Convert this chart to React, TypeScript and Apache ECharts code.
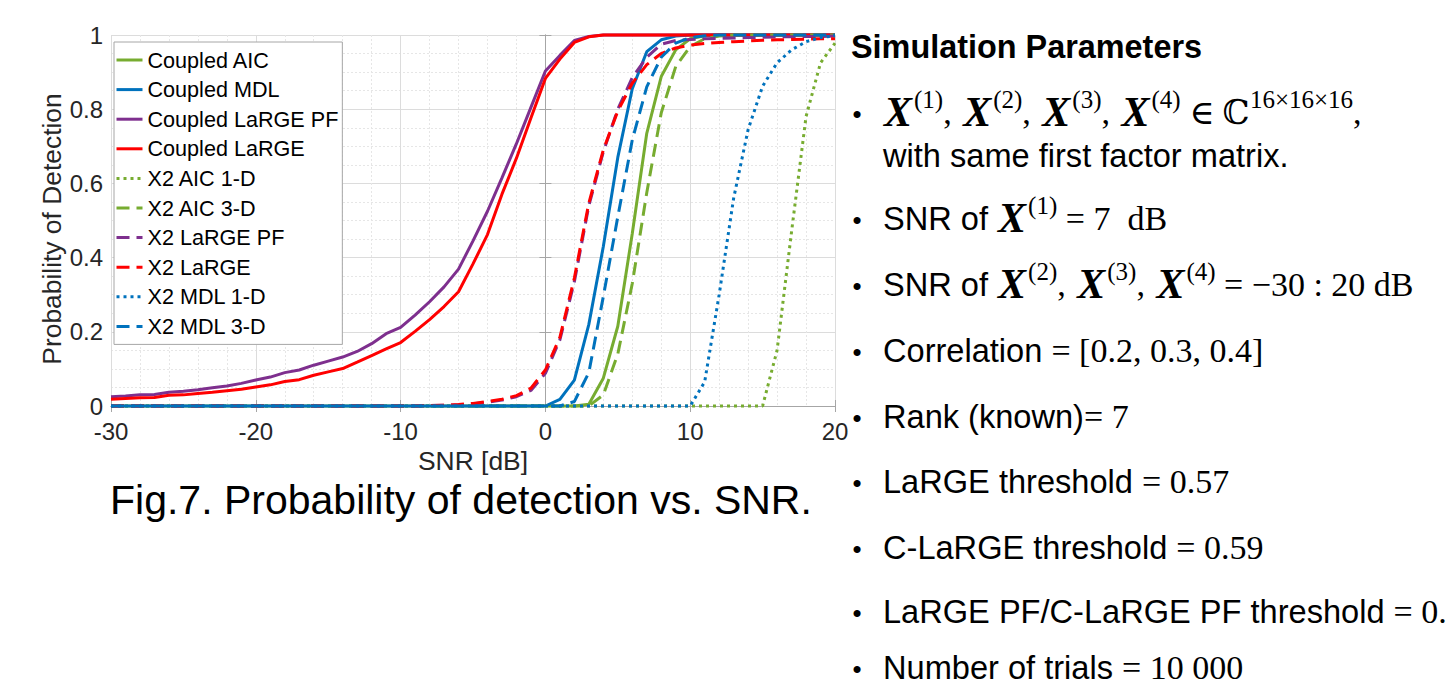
import React, { useEffect, useRef } from "react";
import * as echarts from "echarts";

const snr = [
  -30, -29, -28, -27, -26, -25, -24, -23, -22, -21, -20, -19, -18, -17, -16, -15, -14, -13, -12, -11,
  -10, -9, -8, -7, -6, -5, -4, -3, -2, -1, 0, 1, 2, 3, 4, 5, 6, 7, 8, 9, 10, 11, 12, 13, 14, 15, 16,
  17, 18, 19, 20,
];

const coupledAIC = [
  0, 0, 0, 0, 0, 0, 0, 0, 0, 0, 0, 0, 0, 0, 0, 0, 0, 0, 0, 0, 0, 0, 0, 0, 0, 0, 0, 0, 0, 0, 0, 0, 0,
  0.005, 0.075, 0.215, 0.465, 0.735, 0.888, 0.96, 0.99, 0.998, 1, 1, 1, 1, 1, 1, 1, 1, 1,
];
const coupledMDL = [
  0, 0, 0, 0, 0, 0, 0, 0, 0, 0, 0, 0, 0, 0, 0, 0, 0, 0, 0, 0, 0, 0, 0, 0, 0, 0, 0, 0, 0, 0, 0,
  0.018, 0.07, 0.22, 0.43, 0.67, 0.855, 0.955, 0.987, 0.997, 1, 1, 1, 1, 1, 1, 1, 1, 1, 1, 1,
];
const coupledLaRGEPF = [
  0.025, 0.027, 0.03, 0.031, 0.037, 0.04, 0.044, 0.049, 0.054, 0.061, 0.07, 0.078, 0.09, 0.097, 0.11,
  0.121, 0.132, 0.147, 0.168, 0.195, 0.212, 0.245, 0.281, 0.321, 0.369, 0.445, 0.525, 0.615, 0.707,
  0.805, 0.903, 0.945, 0.985, 0.996, 1, 1, 1, 1, 1, 1, 1, 1, 1, 1, 1, 1, 1, 1, 1, 1, 1,
];
const coupledLaRGE = [
  0.018, 0.02, 0.022, 0.023, 0.029, 0.03, 0.034, 0.037, 0.041, 0.045, 0.051, 0.057, 0.066, 0.071,
  0.083, 0.092, 0.101, 0.118, 0.136, 0.154, 0.171, 0.201, 0.233, 0.268, 0.308, 0.383, 0.462, 0.571,
  0.668, 0.776, 0.883, 0.935, 0.98, 0.995, 1, 1, 1, 1, 1, 1, 1, 1, 1, 1, 1, 1, 1, 1, 1, 1, 1,
];
const x2AIC1D = [
  0, 0, 0, 0, 0, 0, 0, 0, 0, 0, 0, 0, 0, 0, 0, 0, 0, 0, 0, 0, 0, 0, 0, 0, 0, 0, 0, 0, 0, 0, 0, 0, 0,
  0, 0, 0, 0, 0, 0, 0, 0, 0, 0, 0, 0, 0, 0.15, 0.47, 0.78, 0.925, 0.978,
];
const x2AIC3D = [
  0, 0, 0, 0, 0, 0, 0, 0, 0, 0, 0, 0, 0, 0, 0, 0, 0, 0, 0, 0, 0, 0, 0, 0, 0, 0, 0, 0, 0, 0, 0, 0, 0,
  0, 0.03, 0.14, 0.33, 0.575, 0.79, 0.915, 0.969, 0.99, 0.997, 1, 1, 1, 1, 1, 1, 1, 1,
];
const x2LaRGEPF = [
  0, 0, 0, 0, 0, 0, 0, 0, 0, 0, 0, 0, 0, 0, 0, 0, 0, 0, 0, 0, 0, 0, 0.001, 0.002, 0.003, 0.006, 0.01,
  0.016, 0.025, 0.042, 0.088, 0.178, 0.335, 0.54, 0.685, 0.8, 0.885, 0.94, 0.975, 0.985, 0.988, 0.99,
  0.991, 0.992, 0.993, 0.994, 0.995, 0.995, 0.996, 0.996, 0.997,
];
const x2LaRGE = [
  0, 0, 0, 0, 0, 0, 0, 0, 0, 0, 0, 0, 0, 0, 0, 0, 0, 0, 0, 0, 0, 0, 0.001, 0.002, 0.004, 0.007, 0.012,
  0.018, 0.028, 0.048, 0.097, 0.185, 0.345, 0.547, 0.69, 0.795, 0.87, 0.92, 0.95, 0.965, 0.973, 0.977,
  0.98, 0.982, 0.984, 0.986, 0.987, 0.988, 0.989, 0.99, 0.99,
];
const x2MDL1D = [
  0, 0, 0, 0, 0, 0, 0, 0, 0, 0, 0, 0, 0, 0, 0, 0, 0, 0, 0, 0, 0, 0, 0, 0, 0, 0, 0, 0, 0, 0, 0, 0, 0,
  0, 0, 0, 0, 0, 0, 0, 0, 0.065, 0.3, 0.56, 0.745, 0.862, 0.925, 0.96, 0.982, 0.993, 0.998,
];
const x2MDL3D = [
  0, 0, 0, 0, 0, 0, 0, 0, 0, 0, 0, 0, 0, 0, 0, 0, 0, 0, 0, 0, 0, 0, 0, 0, 0, 0, 0, 0, 0, 0, 0, 0,
  0.012, 0.09, 0.295, 0.51, 0.717, 0.86, 0.94, 0.978, 0.993, 0.998, 1, 1, 1, 1, 1, 1, 1, 1, 1,
];

const seriesNames = [
  "Coupled AIC",
  "Coupled MDL",
  "Coupled LaRGE PF",
  "Coupled LaRGE",
  "X2 AIC 1-D",
  "X2 AIC 3-D",
  "X2 LaRGE PF",
  "X2 LaRGE",
  "X2 MDL 1-D",
  "X2 MDL 3-D",
];
const seriesValues = [
  coupledAIC, coupledMDL, coupledLaRGEPF, coupledLaRGE, x2AIC1D, x2AIC3D, x2LaRGEPF, x2LaRGE, x2MDL1D, x2MDL3D,
];
const seriesColors = [
  "#77AC30", "#0072BD", "#7E2F8E", "#FF0000", "#77AC30", "#77AC30", "#7E2F8E", "#FF0000", "#0072BD", "#0072BD",
];
const seriesDash = ["solid", "solid", "solid", "solid", "dot", "dash", "dash", "dash", "dot", "dash"];

const xLabel = "SNR [dB]";
const yLabel = "Probability of Detection";
const caption = "Fig.7. Probability of detection vs. SNR.";
const panelTitle = "Simulation Parameters";
const panelLines = [
  "{X|X}{s|(1)}{c|, }{X|X}{s|(2)}{c|, }{X|X}{s|(3)}{c|, }{X|X}{s|(4)}{m| ∈ ℂ}{s|16×16×16}{c|,}",
  "{T|with same first factor matrix.}",
  "{t|SNR of }{X|X}{s|(1)}{m| = 7  dB}",
  "{t|SNR of }{X|X}{s|(2)}{c|, }{X|X}{s|(3)}{c|, }{X|X}{s|(4)}{m| = −30 : 20 dB}",
  "{T|Correlation }{M|= [0.2, 0.3, 0.4]}",
  "{T|Rank (known)}{M|= 7}",
  "{T|LaRGE threshold }{M|= 0.57}",
  "{T|C-LaRGE threshold }{M|= 0.59}",
  "{T|LaRGE PF/C-LaRGE PF threshold }{M|= 0.}",
  "{B|Number of trials }{N|= 10 000}",
];
const panelLineY = [112, 155, 218, 284, 350, 416, 481, 547, 611, 667];
const bulletLines = [0, 2, 3, 4, 5, 6, 7, 8, 9];

const SANS = '"Liberation Sans", Arial, Helvetica, sans-serif';
const SERIF = '"Liberation Serif", "DejaVu Serif", serif';

export default function App() {
  const ref = useRef<HTMLDivElement>(null);
  useEffect(() => {
    if (!ref.current) return;
    const chart = echarts.init(ref.current, null, { renderer: "svg" });
    const dashFor = (d: string) => (d === "dot" ? [3, 4] : d === "dash" ? [13, 7] : "solid");
    const series = seriesNames.map((name, k) => ({
      name,
      type: "line",
      data: snr.map((x, i) => [x, seriesValues[k][i]]),
      symbol: "none",
      showSymbol: false,
      clip: false,
      xAxisIndex: 0,
      yAxisIndex: 0,
      lineStyle: { color: seriesColors[k], width: 3, type: dashFor(seriesDash[k]) },
      itemStyle: { color: seriesColors[k] },
      emphasis: { disabled: true },
    }));

    const rich = {
      t: { fontFamily: SANS, fontSize: 32.6, fill: "#000", lineHeight: 50 },
      m: { fontFamily: SERIF, fontSize: 34, fill: "#000", lineHeight: 50 },
      c: { fontFamily: SERIF, fontSize: 34, fill: "#000", lineHeight: 50, padding: [0, 2, 0, 0] },
      X: {
        fontFamily: SERIF,
        fontSize: 42,
        fontStyle: "italic",
        fontWeight: "bold",
        fill: "#000",
        lineHeight: 50,
        padding: [0, 2, 0, 1],
      },
      s: { fontFamily: SERIF, fontSize: 25, fill: "#000", lineHeight: 26, verticalAlign: "top" },
      T: { fontFamily: SANS, fontSize: 32.6, fill: "#000", lineHeight: 34 },
      M: { fontFamily: SERIF, fontSize: 34, fill: "#000", lineHeight: 34 },
      B: { fontFamily: SANS, fontSize: 32.6, fill: "#000", lineHeight: 28 },
      N: { fontFamily: SERIF, fontSize: 34, fill: "#000", lineHeight: 28 },
    };

    const graphics: any[] = [
      {
        type: "text",
        x: 110,
        y: 500,
        style: { text: caption, fontFamily: SANS, fontSize: 41, fill: "#000", verticalAlign: "middle" },
      },
      {
        type: "text",
        x: 851,
        y: 47,
        style: {
          text: panelTitle,
          fontFamily: SANS,
          fontSize: 32.4,
          fontWeight: "bold",
          fill: "#000",
          verticalAlign: "middle",
        },
      },
    ];
    bulletLines.forEach((li) => {
      graphics.push({
        type: "text",
        x: 857,
        y: panelLineY[li] + 2,
        style: { text: "•", fontFamily: SANS, fontSize: 26, fill: "#000", align: "center", verticalAlign: "middle" },
      });
    });
    panelLines.forEach((txt, i) => {
      graphics.push({
        type: "text",
        x: 883,
        y: panelLineY[i],
        style: { text: txt, rich, verticalAlign: "middle", fill: "#000" },
      });
    });

    const axisColor = "#a6a6a6";
    const labelColor = "#262626";
    chart.setOption({
      animation: false,
      backgroundColor: "#fff",
      grid: { left: 111, right: 621, top: 35, bottom: 282, containLabel: false },
      legend: {
        orient: "vertical",
        left: 114,
        top: 42,
        padding: [7, 4, 7, 1],
        itemWidth: 26,
        itemHeight: 22,
        itemGap: 7.6,
        backgroundColor: "#fff",
        borderColor: axisColor,
        borderWidth: 1,
        selectedMode: false,
        itemStyle: { opacity: 0, borderWidth: 0 },
        lineStyle: { width: 3 },
        textStyle: { fontSize: 21.6, fontFamily: SANS, color: "#000", lineHeight: 22 },
        data: seriesNames,
      },
      xAxis: [
        {
          type: "value",
          min: -30,
          max: 20,
          interval: 10,
          position: "bottom",
          name: xLabel,
          nameLocation: "middle",
          nameGap: 42,
          nameTextStyle: { fontSize: 26.4, fontFamily: SANS, color: labelColor },
          axisLine: { show: true, lineStyle: { color: axisColor, width: 1 } },
          axisTick: { show: true, inside: true, length: 6, lineStyle: { color: axisColor } },
          axisLabel: { fontSize: 24, fontFamily: SANS, color: labelColor, margin: 14, lineHeight: 22 },
          splitLine: { show: true, lineStyle: { color: "#dcdcdc", width: 1 } },
          minorTick: { show: false, splitNumber: 5 },
          minorSplitLine: { show: true, lineStyle: { color: "#e6e6e6", width: 1, type: [2, 2] } },
        },
        {
          type: "value",
          min: -30,
          max: 20,
          interval: 10,
          position: "top",
          axisLine: { show: true, lineStyle: { color: axisColor, width: 1 } },
          axisTick: { show: true, inside: true, length: 6, lineStyle: { color: axisColor } },
          axisLabel: { show: false },
          splitLine: { show: false },
        },
      ],
      yAxis: [
        {
          type: "value",
          min: 0,
          max: 1,
          interval: 0.2,
          position: "left",
          name: yLabel,
          nameLocation: "middle",
          nameGap: 46,
          nameRotate: 90,
          nameTextStyle: { fontSize: 26.4, fontFamily: SANS, color: labelColor, padding: [0, 17, 0, 0] },
          axisLine: { show: true, lineStyle: { color: axisColor, width: 1 } },
          axisTick: { show: true, inside: true, length: 6, lineStyle: { color: axisColor } },
          axisLabel: { fontSize: 24, fontFamily: SANS, color: labelColor, margin: 8, lineHeight: 20 },
          splitLine: { show: true, lineStyle: { color: "#dcdcdc", width: 1 } },
          minorTick: { show: false, splitNumber: 4 },
          minorSplitLine: { show: true, lineStyle: { color: "#e6e6e6", width: 1, type: [2, 2] } },
        },
        {
          type: "value",
          min: 0,
          max: 1,
          interval: 0.2,
          position: "right",
          axisLine: { show: true, lineStyle: { color: axisColor, width: 1 } },
          axisTick: { show: true, inside: true, length: 6, lineStyle: { color: axisColor } },
          axisLabel: { show: false },
          splitLine: { show: false },
        },
      ],
      series,
      graphic: graphics,
    });
    return () => chart.dispose();
  }, []);
  return (
    <div
      ref={ref}
      style={{ position: "fixed", left: 0, top: 0, width: 1456, height: 688, background: "#fff" }}
    />
  );
}
